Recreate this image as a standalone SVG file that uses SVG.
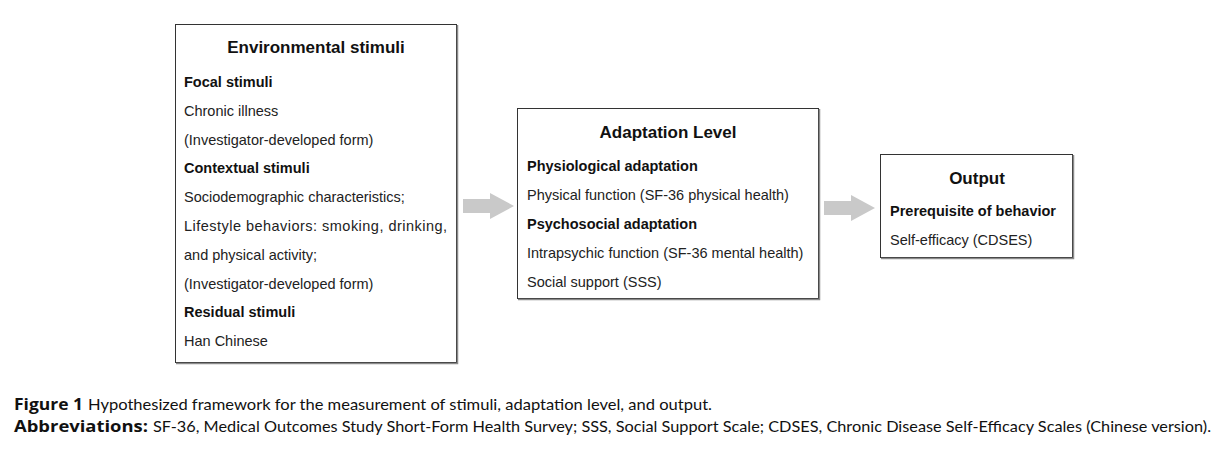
<svg xmlns="http://www.w3.org/2000/svg" width="1230" height="466" viewBox="0 0 1230 466">
<style>
.box{fill:#fff;stroke:#333;stroke-width:1}
.shd{fill:none;stroke:#8a8a8a;stroke-width:1.5}
.t{font-family:"Liberation Sans",Arial,sans-serif;font-size:17px;font-weight:bold;fill:#111;text-anchor:middle}
.h{font-family:"Liberation Sans",Arial,sans-serif;font-size:14.5px;font-weight:bold;fill:#111}
.b{font-family:"Liberation Sans",Arial,sans-serif;font-size:14.5px;fill:#222}
.arr{fill:#c9c9c9}
.cb{font-family:"Open Sans",Lato,sans-serif;font-size:16px;font-weight:bold;fill:#111}
.cr{font-family:Lato,"Open Sans",sans-serif;font-size:16px;fill:#111}
</style>
<rect width="1230" height="466" fill="#fff"/>
<g id="environmental-stimuli">
<rect class="box" x="175.5" y="24.5" width="281" height="338"/>
<path class="shd" d="M457.5 25 V363.5 H176"/>
<text class="t" x="316" y="53">Environmental stimuli</text>
<text class="h" x="184" y="87">Focal stimuli</text>
<text class="b" x="184" y="116">Chronic illness</text>
<text class="b" x="184" y="145">(Investigator-developed form)</text>
<text class="h" x="184" y="173">Contextual stimuli</text>
<text class="b" x="184" y="202">Sociodemographic characteristics;</text>
<text class="b" x="184" y="231" textLength="263" lengthAdjust="spacing">Lifestyle behaviors: smoking, drinking,</text>
<text class="b" x="184" y="260">and physical activity;</text>
<text class="b" x="184" y="289">(Investigator-developed form)</text>
<text class="h" x="184" y="317">Residual stimuli</text>
<text class="b" x="184" y="346">Han Chinese</text>
</g>
<g id="adaptation-level">
<rect class="box" x="517.5" y="108.5" width="301" height="190"/>
<path class="shd" d="M819.5 109 V299.5 H518"/>
<text class="t" x="668" y="138">Adaptation Level</text>
<text class="h" x="527" y="171">Physiological adaptation</text>
<text class="b" x="527" y="200">Physical function (SF-36 physical health)</text>
<text class="h" x="527" y="229">Psychosocial adaptation</text>
<text class="b" x="527" y="258">Intrapsychic function (SF-36 mental health)</text>
<text class="b" x="527" y="287">Social support (SSS)</text>
</g>
<g id="output">
<rect class="box" x="880.5" y="154.5" width="192" height="103"/>
<path class="shd" d="M1073.5 155 V258.5 H881"/>
<text class="t" x="977" y="184">Output</text>
<text class="h" x="890" y="216">Prerequisite of behavior</text>
<text class="b" x="890" y="245">Self-efficacy (CDSES)</text>
</g>
<g id="connectors">
<polygon class="arr" points="463,199 490,199 490,193 514,206 490,219 490,213 463,213"/>
<polygon class="arr" points="824,201 851,201 851,195 875,208 851,221 851,215 824,215"/>
</g>
<g id="caption">
<text class="cb" x="14" y="410" textLength="69" lengthAdjust="spacingAndGlyphs">Figure 1</text>
<text class="cr" x="88" y="410" textLength="624" lengthAdjust="spacingAndGlyphs">Hypothesized framework for the measurement of stimuli, adaptation level, and output.</text>
<text class="cb" x="14" y="432" textLength="134" lengthAdjust="spacingAndGlyphs">Abbreviations:</text>
<text class="cr" x="153" y="432" textLength="1058" lengthAdjust="spacingAndGlyphs">SF-36, Medical Outcomes Study Short-Form Health Survey; SSS, Social Support Scale; CDSES, Chronic Disease Self-Efficacy Scales (Chinese version).</text>
</g>
</svg>
